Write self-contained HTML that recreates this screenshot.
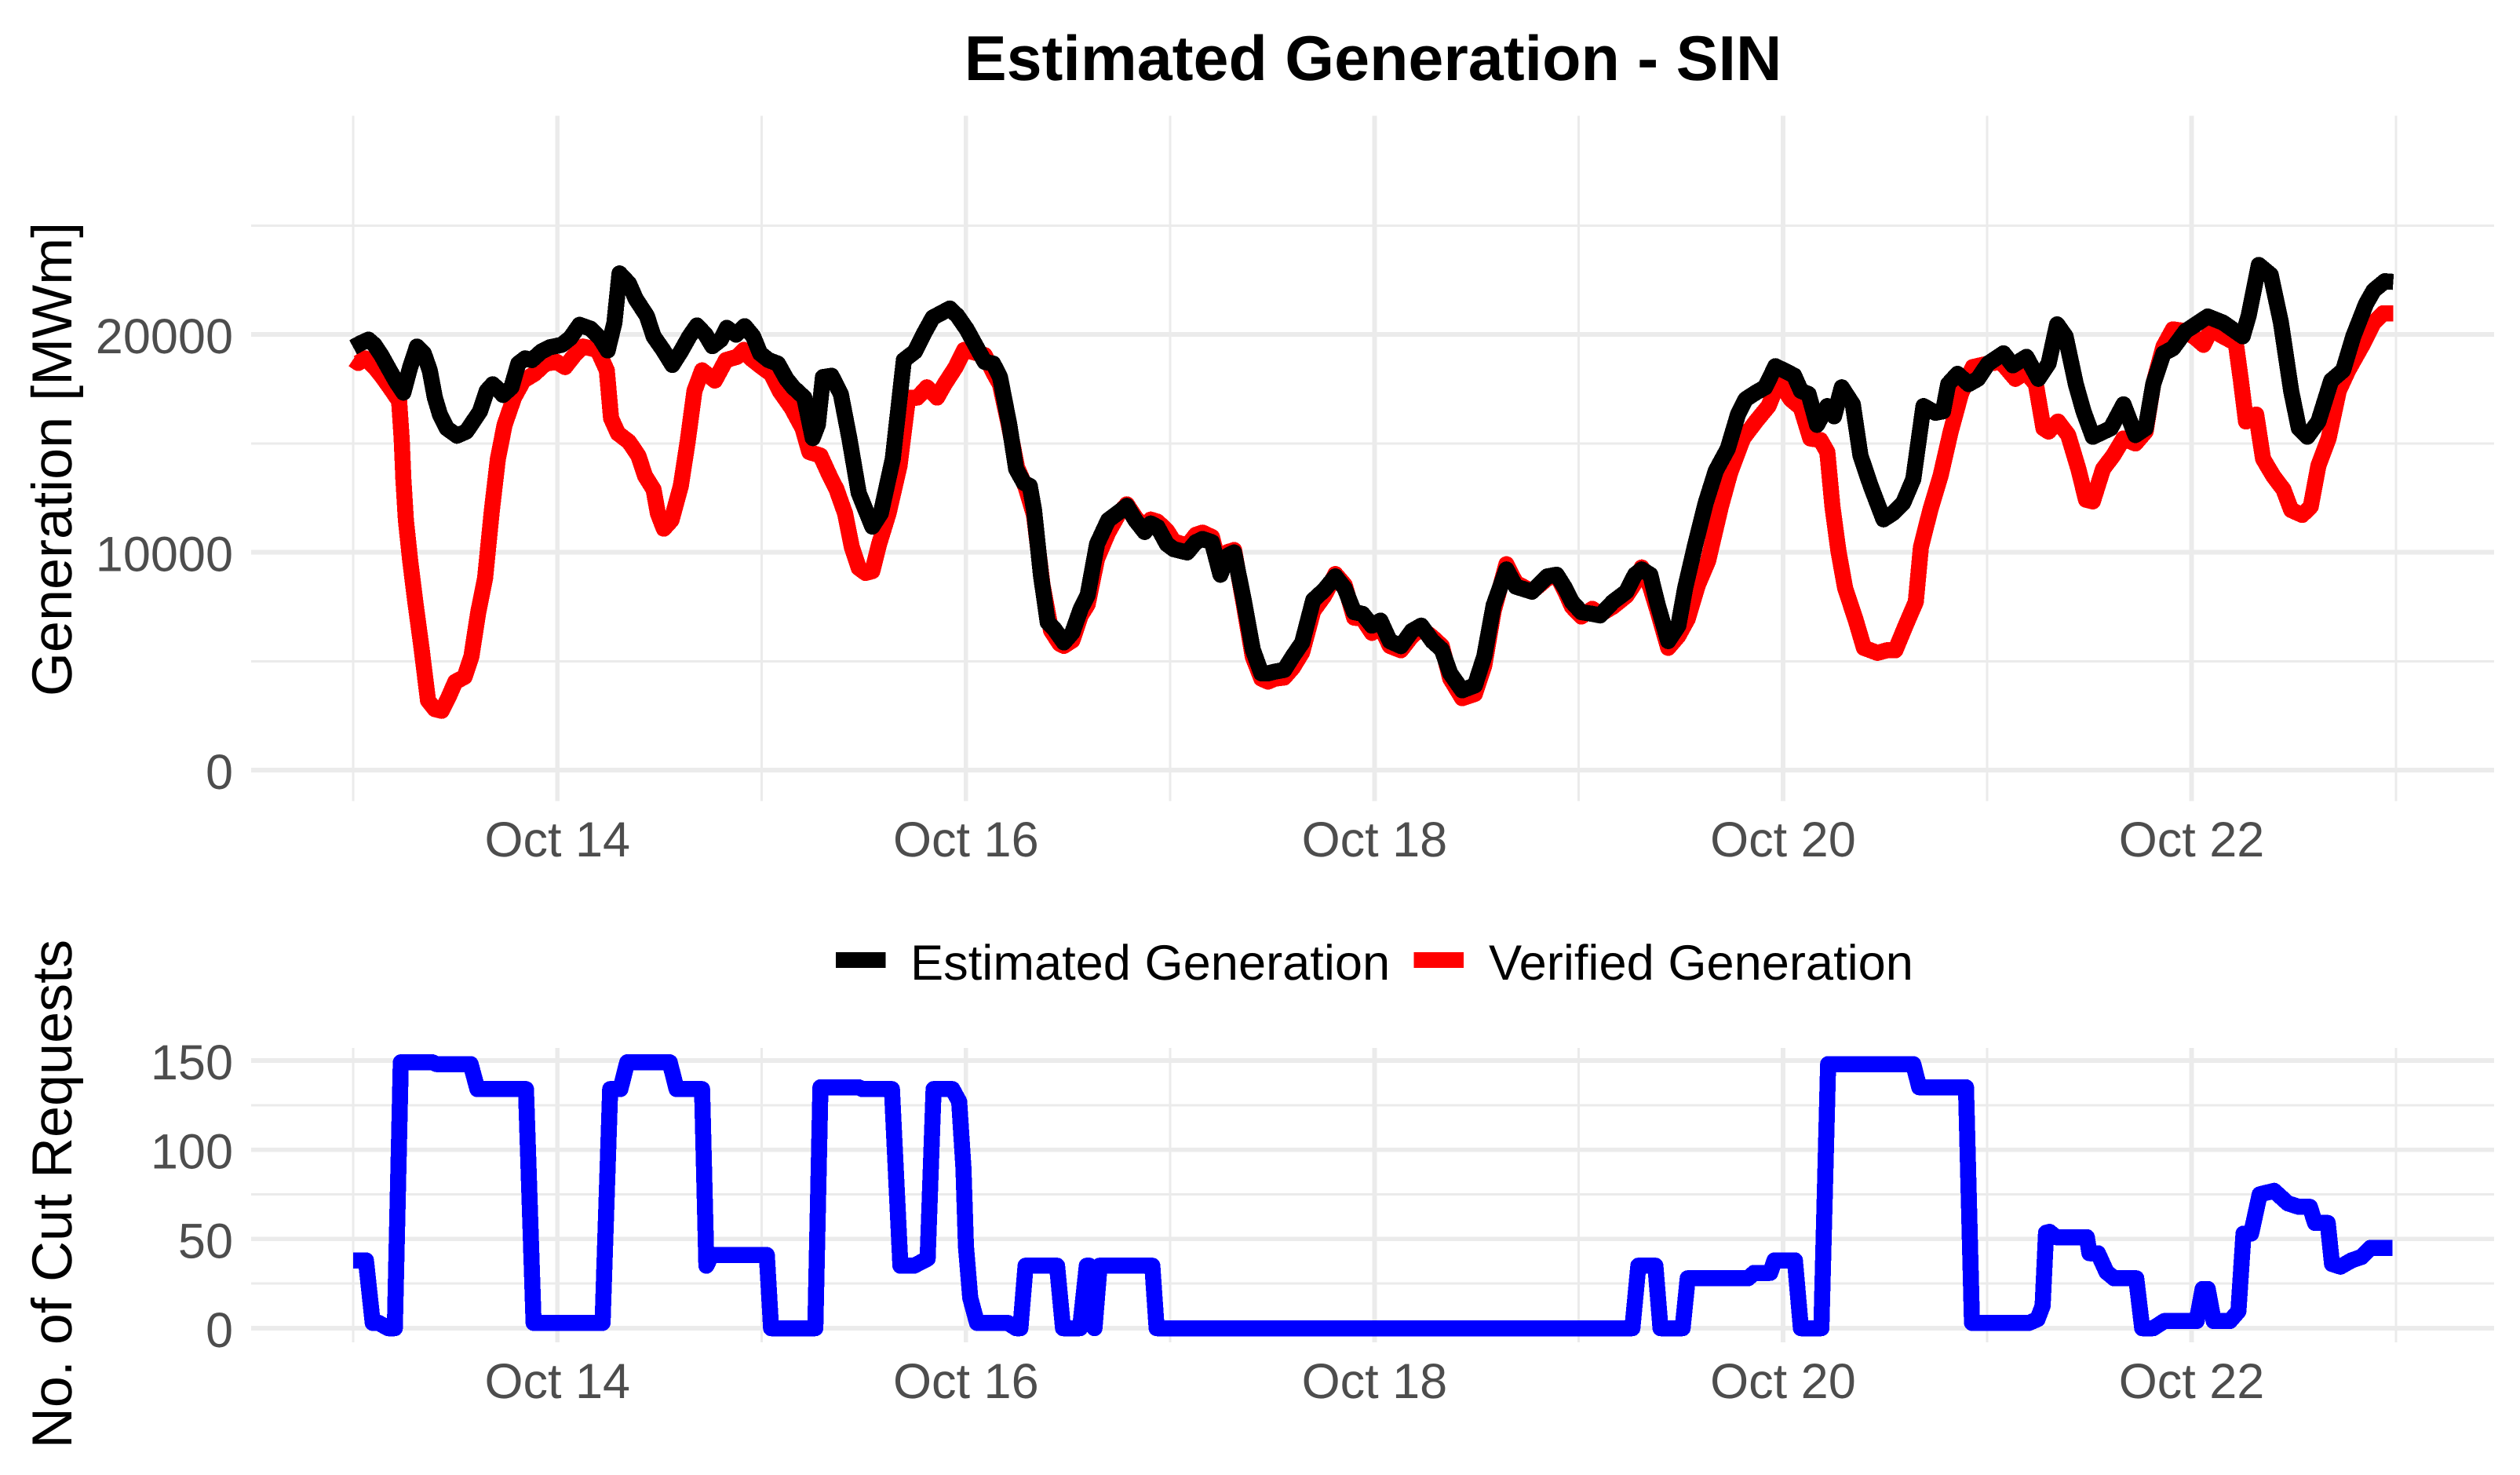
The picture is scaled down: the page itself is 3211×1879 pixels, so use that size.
<!DOCTYPE html>
<html lang="en">
<head>
<meta charset="utf-8">
<title>Estimated Generation - SIN</title>
<style>
html,body{margin:0;padding:0;background:#fff;width:3211px;height:1879px;overflow:hidden}
svg{display:block}
text{font-family:"Liberation Sans",Arial,sans-serif;text-rendering:geometricPrecision}
.tick{font-size:63px;fill:#4d4d4d}
.ytitle{font-size:72px;fill:#000}
.legend{font-size:63.2px;fill:#000}
</style>
</head>
<body>
<svg id="chart" xmlns="http://www.w3.org/2000/svg" width="3211" height="1879" viewBox="0 0 3211 1879">
<rect x="0" y="0" width="3211" height="1879" fill="#fff"/>
<g id="grid" shape-rendering="crispEdges"></g>
<g id="series" shape-rendering="crispEdges"></g>
<g id="axes"></g>
<text x="1749.5" y="102" text-anchor="middle" font-size="80.8" font-weight="700" fill="#000">Estimated Generation - SIN</text>
<text class="ytitle" transform="translate(91,585) rotate(-90)" text-anchor="middle">Generation [MWm]</text>
<text class="ytitle" transform="translate(91,1521) rotate(-90)" text-anchor="middle">No. of Cut Requests</text>
<g>
<rect x="1065" y="1213" width="63.5" height="20" fill="#000"/>
<text class="legend" x="1160" y="1248">Estimated Generation</text>
<rect x="1801.5" y="1213" width="63.5" height="20" fill="#f00"/>
<text class="legend" x="1897" y="1248">Verified Generation</text>
</g>
</svg>
<script>
// Hours since Oct 13 00:00 and values
const estHours = [0,0.9,1.8,2.5,3.3,4.3,5.1,5.9,6.7,7.5,8.3,9.0,9.6,10.2,11.0,12.2,13.3,14.1,14.9,15.7,16.4,17.0,17.6,18.6,19.4,20.2,21.0,22.1,23.1,24.5,25.5,26.6,27.9,29.0,29.9,30.7,31.3,32.4,33.2,34.5,35.3,36.4,37.5,38.5,39.5,40.4,41.4,42.2,43.2,43.9,45.0,46.0,47.0,47.8,48.8,49.9,50.9,51.7,53.0,54.0,54.6,55.2,56.2,57.3,58.3,59.4,61.0,62.0,63.4,64.7,66.0,67.1,68.1,70.1,71.0,72.1,73.2,74.2,75.2,76.0,77.1,77.9,78.8,79.5,80.0,80.8,81.6,82.4,83.5,84.5,85.5,86.3,87.4,88.7,90.3,90.9,91.9,93.0,93.7,94.5,95.6,96.4,98.0,99.0,99.8,100.9,101.9,102.7,103.5,104.6,105.7,106.7,107.5,108.3,109.4,110.4,111.5,112.8,114.1,115.4,116.5,117.6,118.6,119.7,120.7,121.8,123.1,124.4,125.5,126.8,127.9,128.9,130.3,131.8,132.9,134.0,135.5,136.6,138.5,140.3,141.4,142.4,143.2,144.3,145.6,146.5,148.0,149.6,150.6,151.4,152.4,153.3,154.5,155.7,156.5,157.7,158.9,160.1,161.5,162.7,163.6,164.8,165.9,167.1,168.1,169.3,170.1,171.0,172.0,173.2,174.0,174.9,176.2,177.1,178.3,179.8,180.9,182.1,183.3,184.5,185.9,186.8,187.4,188.5,189.8,190.9,192.1,193.9,195.0,196.6,198.0,199.2,200.2,201.2,202.4,203.3,204.4,206.5,208.0,209.4,210.6,211.5,212.7,213.8,215.3,217.9,219.7,222.0,222.7,223.9,225.3,226.5,227.7,228.6,229.6,230.9,232.4,233.8,235.0,236.5,237.4,238.7,239.7];
const estValues = [19410,19600,19760,19520,19050,18350,17800,17330,18500,19440,19130,18350,17100,16320,15690,15350,15540,16000,16470,17410,17710,17490,17220,17570,18660,18900,18820,19210,19410,19520,19830,20440,20260,19830,19260,20540,22800,22340,21630,20850,19910,19290,18600,19210,19910,20410,19990,19460,19760,20300,19990,20380,19910,19130,18820,18660,17960,17570,17100,15240,15850,18040,18100,17260,15220,12720,11180,11790,14290,18820,19210,20070,20770,21190,20850,20230,19440,18740,18660,18040,15850,13820,13190,13040,11940,8970,6780,6470,5860,6310,7410,8030,10380,11470,11940,12130,11470,10930,11320,11160,10380,10140,9990,10460,10610,10460,8970,9830,9990,7880,5530,4440,4440,4520,4600,5220,5850,7800,8270,8890,8350,7250,7170,6630,6860,5920,5690,6390,6630,5920,5530,4440,3660,3890,5220,7560,9210,8420,8190,8890,8970,8350,7720,7250,7170,7100,7720,8190,8970,9210,8970,7560,5920,6630,8350,10380,12250,13740,14750,16320,17020,17330,17570,18540,18350,18110,17410,17260,15850,16710,16240,17570,16790,14440,13040,11510,11790,12250,13350,16710,16400,16470,17720,18190,17720,17960,18660,19130,18580,18970,17960,18660,20460,19910,17720,16470,15300,15690,16790,15380,15690,17720,19130,19360,20150,20820,20540,19910,20850,23190,22730,20540,17410,15690,15300,16000,17880,18350,19910,21400,22020,22440,22410];
const verHours = [0,0.6,1.4,2.5,3.3,4.3,5.4,5.7,5.9,6.2,6.7,7.3,8.0,8.8,9.6,10.4,11.2,12.0,13.1,13.9,14.7,15.5,16.3,17.0,17.8,18.9,20.0,21.3,22.6,23.9,24.9,26.0,27.0,28.7,29.8,30.3,31.1,32.4,33.5,34.3,35.3,35.8,36.5,37.4,38.5,39.3,40.1,41.0,42.5,43.8,45.1,45.9,46.7,48.0,49.1,50.1,51.5,52.8,53.6,54.9,56.0,56.8,57.8,58.6,59.4,60.2,61.0,61.8,62.9,64.2,65.2,66.3,67.4,68.6,69.5,70.8,71.8,74.2,75.3,76,77,78,79,80,81,82,83,83.5,84.5,85.5,86.3,87.4,88.7,90,90.9,91.9,93,93.7,94.5,95.6,96.4,98,99,99.8,100.9,101.9,102.7,103.5,104.6,105.7,106.7,107.5,108.3,109.4,110.4,111.5,112.8,114.1,115.4,116.5,117.6,118.6,119.7,120.7,121.8,123.1,124.4,125.5,126.8,127.9,128.9,130.3,131.8,132.9,134,135.5,136.6,138.5,140.3,141.4,142.4,143.2,144.3,145.6,146.5,148,149.6,150.6,151.4,152.4,153.3,154.5,155.7,156.8,158,159.2,160.7,161.8,163.3,164.8,166.3,167.5,168.9,170.1,171.2,172.4,173.2,173.8,174.5,175.3,176.5,177.5,179.1,180.2,181.2,182.4,183.6,184.2,185.3,186.5,187.7,188.9,190.3,192.1,193.6,195.3,196.5,197.7,198.6,199.2,200.3,201.5,202.7,203.6,204.4,205.6,206.8,208,209.4,210.6,211.5,212.7,213.8,215.3,216.5,217.4,218.3,219.7,221.2,221.8,222.4,223.6,224.4,225.6,226.8,227.7,229,230,230.9,232.1,233.3,234.4,236.2,237.4,238.5,239.7];
const verValues = [18850,18690,18900,18500,18110,17570,16940,15220,13350,11470,9600,7720,5690,3190,2800,2720,3340,4050,4280,5220,7250,8810,11940,14290,15850,17100,17880,18190,18660,18740,18500,19050,19440,19290,18350,16160,15460,15070,14440,13500,12880,11780,11080,11470,13040,15070,17410,18350,17880,18820,18970,19290,18900,18500,18190,17410,16630,15690,14600,14440,13500,12880,11780,10220,9280,9050,9130,10380,11780,13970,17100,17100,17570,17100,17720,18500,19290,19050,18190,17700,15900,13900,13000,11700,8500,6400,5800,5700,5950,7100,7600,9700,10900,11800,12200,11600,11100,11500,11400,11000,10500,10300,10800,10900,10700,9200,10000,10100,7700,5200,4200,4060,4200,4250,4700,5400,7300,8000,9000,8500,7000,6950,6300,6600,5700,5500,6150,6500,6100,5700,4200,3300,3500,4800,7300,9450,8600,8200,8800,8950,8200,7500,7050,7400,7150,7500,8000,8600,9300,8400,7250,5610,6160,6940,8500,9600,12100,13660,15220,16000,16710,17880,17020,16630,15220,15150,14600,12100,10070,8350,6940,5610,5380,5500,5500,6630,7720,10220,11940,13500,15540,17260,18500,18660,18740,17960,18270,17720,15690,15540,16000,15380,13820,12410,12330,13820,14440,15220,14990,15540,17720,19440,20230,20150,19830,19520,20230,19910,19600,17880,16000,16320,14290,13500,12880,11940,11710,12100,13970,15220,17410,18350,19600,20540,20970,20970];
const cutHours = [0,1.5,2.3,3.0,4.1,4.9,5.6,9.3,9.8,13.8,14.6,20.3,21.2,29.3,30.2,31.4,32.2,37.2,38,41,41.5,42.1,48.6,49.1,54.3,54.9,59.4,59.8,63.3,64.3,65.9,67.5,68.2,70.4,71.2,71.7,72,72.5,73.3,76.9,77.9,78.4,79,82.7,83.4,85.4,86.2,86.5,87.1,87.7,93.9,94.4,150.3,151,153,153.6,156.2,156.8,163.9,164.6,166.5,167,169.4,170.1,172.5,173.3,183.3,184,189.5,190.2,196.9,197.9,198.5,198.9,199.3,200.1,203.7,204,205,206,206.9,209.5,210.2,211.5,212.8,216.6,217.3,217.9,218.6,220.5,221.5,222.1,223,224,225.7,227.3,228.6,229.9,230.5,232,232.5,233.5,234.8,236,237,239.6];
const cutValues = [38,38,3,3,0,0,149,149,148,148,134,134,3,3,134,134,149,149,134,134,35,41,41,0,0,135,135,134,134,35,35,39,134,134,127,90,46,17,3,3,0,0,35,35,0,0,35,35,0,35,35,0,0,35,35,0,0,28,28,31,31,38,38,0,0,148,148,135,135,3,3,5,12.5,53.5,54,51,51,42,42,31.5,28,28,0,0,4,4,22,22,4,4,9.5,53,53,75,77,70,68,68,59,59,36,34.5,38,40,45,45];

// Axis definitions
const majorDays = [14,16,18,20,22];
const minorDays = [13,15,17,19,21,23];
const genMajorTicks = [0,10000,20000];
const genMinorTicks = [5000,15000,25000];
const cutMajorTicks = [0,50,100,150];
const cutMinorTicks = [25,75,125];

const NS = 'http://www.w3.org/2000/svg';
const LEFT = 320, RIGHT = 3178;
function xHours(h){ return 450 + h * 10.845; }
function xDay(d){ return xHours((d - 13) * 24); }
function yGen(v){ return 981 - v * 0.02775; }
function yCut(v){ return 1692 - v * 2.273; }

function line(parent, x1, y1, x2, y2, w){
  const el = document.createElementNS(NS, 'line');
  el.setAttribute('x1', x1);
  el.setAttribute('y1', y1);
  el.setAttribute('x2', x2);
  el.setAttribute('y2', y2);
  el.setAttribute('stroke', '#ebebeb');
  el.setAttribute('stroke-width', w);
  
  
  parent.appendChild(el);
}
function label(parent, x, y, anchor, str, name){
  const el = document.createElementNS(NS, 'text');
  el.setAttribute('class', 'tick');
  el.setAttribute('x', x);
  el.setAttribute('y', y);
  el.setAttribute('text-anchor', anchor);
  
  
  el.textContent = str;
  parent.appendChild(el);
}
function series(parent, hours, values, yFn, color, name){
  const el = document.createElementNS(NS, 'path');
  el.setAttribute('d', hours.map((h, i) => (i ? 'L' : 'M') + xHours(h).toFixed(1) + ' ' + yFn(values[i]).toFixed(1)).join(''));
  el.setAttribute('fill', 'none');
  el.setAttribute('stroke', color);
  el.setAttribute('stroke-width', '20.5');
  el.setAttribute('stroke-linejoin', 'round');
  el.setAttribute('stroke-linecap', 'butt');
  
  
  parent.appendChild(el);
}

const grid = document.getElementById('grid');
const axes = document.getElementById('axes');
const seriesG = document.getElementById('series');
const panels = [
  {top:147.6, bottom:1020.7, y:yGen, major:genMajorTicks, minor:genMinorTicks, xBase:1091},
  {top:1335, bottom:1710, y:yCut, major:cutMajorTicks, minor:cutMinorTicks, xBase:1781}
];
panels.forEach(p => {
  p.minor.forEach(v => line(grid, LEFT, p.y(v), RIGHT, p.y(v), 3));
  minorDays.forEach(d => line(grid, xDay(d), p.top, xDay(d), p.bottom, 3));
  p.major.forEach(v => {
    line(grid, LEFT, p.y(v), RIGHT, p.y(v), 5.7);
    label(axes, 297, p.y(v) + 24, 'end', String(v), 'y-tick-label');
  });
  majorDays.forEach(d => {
    line(grid, xDay(d), p.top, xDay(d), p.bottom, 5.7);
    label(axes, xDay(d), p.xBase, 'middle', 'Oct ' + d, 'x-tick-label');
  });
});
series(seriesG, verHours, verValues, yGen, '#ff0000', 'verified-generation-line');
series(seriesG, estHours, estValues, yGen, '#000000', 'estimated-generation-line');
series(seriesG, cutHours, cutValues, yCut, '#0000ff', 'cut-requests-line');
</script>
</body>
</html>
